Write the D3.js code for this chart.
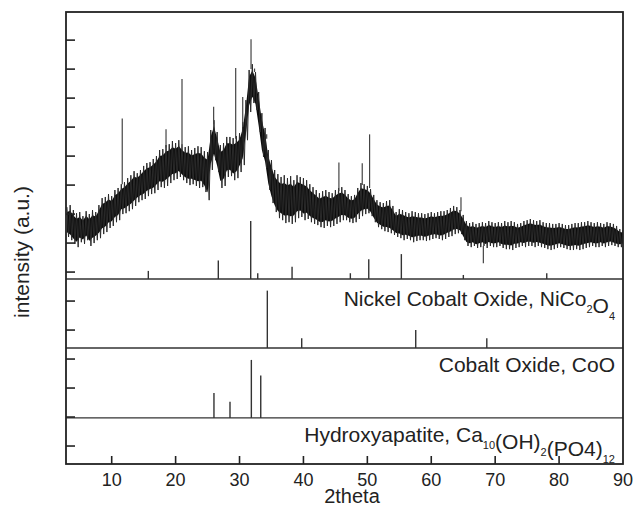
<!DOCTYPE html>
<html>
<head>
<meta charset="utf-8">
<script src="https://cdn.jsdelivr.net/npm/d3@7"></script>
<style>
  body { margin: 0; background: #fff; }
  text { font-family: Arial, "Liberation Sans", sans-serif; fill: #222; }
</style>
</head>
<body>
<div id="vis-container"></div>
<script>
var theta = [3.0, 3.5, 4.0, 4.5, 5.0, 5.5, 6.0, 6.5, 7.0, 7.5,
	8.0, 8.5, 9.0, 9.5, 10.0, 10.5, 11.0, 11.5, 12.0, 12.5,
	13.0, 13.5, 14.0, 14.5, 15.0, 15.5, 16.0, 16.5, 17.0, 17.5,
	18.0, 18.5, 19.0, 19.5, 20.0, 20.5, 21.0, 21.5, 22.0, 22.5,
	23.0, 23.5, 24.0, 24.5, 25.0, 25.5, 26.0, 26.5, 27.0, 27.5,
	28.0, 28.5, 29.0, 29.5, 30.0, 30.5, 31.0, 31.5, 32.0, 32.5,
	33.0, 33.5, 34.0, 34.5, 35.0, 35.5, 36.0, 36.5, 37.0, 37.5,
	38.0, 38.5, 39.0, 39.5, 40.0, 40.5, 41.0, 41.5, 42.0, 42.5,
	43.0, 43.5, 44.0, 44.5, 45.0, 45.5, 46.0, 46.5, 47.0, 47.5,
	48.0, 48.5, 49.0, 49.5, 50.0, 50.5, 51.0, 51.5, 52.0, 52.5,
	53.0, 53.5, 54.0, 54.5, 55.0, 55.5, 56.0, 56.5, 57.0, 57.5,
	58.0, 58.5, 59.0, 59.5, 60.0, 60.5, 61.0, 61.5, 62.0, 62.5,
	63.0, 63.5, 64.0, 64.5, 65.0, 65.5, 66.0, 66.5, 67.0, 67.5,
	68.0, 68.5, 69.0, 69.5, 70.0, 70.5, 71.0, 71.5, 72.0, 72.5,
	73.0, 73.5, 74.0, 74.5, 75.0, 75.5, 76.0, 76.5, 77.0, 77.5,
	78.0, 78.5, 79.0, 79.5, 80.0, 80.5, 81.0, 81.5, 82.0, 82.5,
	83.0, 83.5, 84.0, 84.5, 85.0, 85.5, 86.0, 86.5, 87.0, 87.5,
	88.0, 88.5, 89.0, 89.5, 90.0];
var upper = [8.24, 8.31, 8.14, 8.03, 8.07, 7.93, 8.10, 8.00, 8.14, 8.07,
	8.31, 8.55, 8.59, 8.69, 8.62, 8.83, 8.90, 9.03, 9.10, 9.24,
	9.34, 9.48, 9.41, 9.52, 9.66, 9.76, 9.79, 9.90, 10.00, 10.21,
	10.24, 10.38, 10.41, 10.52, 10.45, 10.55, 10.41, 10.31, 10.34, 10.21,
	10.28, 10.34, 10.31, 10.17, 10.14, 10.90, 11.24, 10.83, 10.38, 10.45,
	10.66, 10.66, 10.62, 10.69, 10.79, 11.17, 11.93, 12.97, 13.17, 12.90,
	12.21, 11.48, 10.97, 10.21, 9.86, 9.52, 9.38, 9.28, 9.34, 9.24,
	9.31, 9.17, 9.34, 9.28, 9.24, 9.17, 9.03, 8.93, 8.83, 8.72,
	8.79, 8.83, 8.76, 8.72, 8.83, 8.90, 8.93, 8.83, 8.69, 8.62,
	8.66, 8.90, 9.07, 9.03, 8.97, 8.86, 8.66, 8.48, 8.41, 8.38,
	8.45, 8.48, 8.28, 8.07, 8.17, 8.14, 8.07, 8.03, 8.10, 8.07,
	8.03, 8.03, 8.00, 8.03, 8.07, 8.03, 8.07, 8.10, 8.10, 8.14,
	8.21, 8.28, 8.24, 8.14, 7.97, 7.76, 7.69, 7.72, 7.66, 7.69,
	7.72, 7.69, 7.76, 7.72, 7.69, 7.72, 7.69, 7.76, 7.72, 7.76,
	7.72, 7.66, 7.69, 7.76, 7.79, 7.83, 7.79, 7.76, 7.79, 7.72,
	7.69, 7.69, 7.66, 7.66, 7.69, 7.66, 7.62, 7.62, 7.66, 7.69,
	7.69, 7.72, 7.72, 7.76, 7.72, 7.69, 7.72, 7.69, 7.66, 7.72,
	7.69, 7.66, 7.59, 7.48, 7.45];
var lower = [7.21, 7.10, 6.97, 6.86, 7.03, 6.97, 7.10, 6.90, 7.00, 7.10,
	7.17, 7.31, 7.38, 7.52, 7.59, 7.72, 7.79, 8.00, 8.03, 8.10,
	8.17, 8.28, 8.41, 8.48, 8.52, 8.62, 8.69, 8.72, 8.83, 8.93,
	8.90, 8.97, 9.07, 9.17, 9.21, 9.28, 9.17, 9.07, 9.00, 9.03,
	8.97, 8.90, 8.93, 8.76, 8.48, 9.52, 9.86, 9.45, 8.90, 8.97,
	9.28, 9.31, 9.17, 9.24, 9.45, 9.69, 10.55, 11.52, 11.83, 11.59,
	10.83, 9.97, 9.59, 8.83, 8.38, 8.07, 7.86, 7.79, 7.69, 7.72,
	7.66, 7.72, 7.86, 7.90, 7.79, 7.83, 7.72, 7.66, 7.62, 7.55,
	7.52, 7.59, 7.55, 7.59, 7.66, 7.72, 7.79, 7.79, 7.72, 7.69,
	7.72, 7.83, 7.93, 8.00, 8.03, 7.93, 7.72, 7.55, 7.48, 7.41,
	7.38, 7.34, 7.28, 7.21, 7.17, 7.10, 7.14, 7.10, 7.03, 7.07,
	7.10, 7.10, 7.07, 7.10, 7.14, 7.17, 7.14, 7.10, 7.14, 7.21,
	7.24, 7.31, 7.34, 7.31, 7.10, 6.90, 6.86, 6.90, 6.83, 6.86,
	6.90, 6.83, 6.90, 6.86, 6.86, 6.90, 6.83, 6.79, 6.79, 6.76,
	6.83, 6.86, 6.90, 6.86, 6.90, 6.90, 6.86, 6.90, 6.86, 6.83,
	6.79, 6.76, 6.79, 6.83, 6.86, 6.83, 6.79, 6.76, 6.76, 6.79,
	6.76, 6.79, 6.83, 6.86, 6.90, 6.86, 6.86, 6.90, 6.86, 6.90,
	6.93, 6.90, 6.86, 6.86, 6.90];

// single sharp spikes sticking out of the band
var spikeTheta = [11.65, 18.5, 21.0, 25.95, 29.4, 30.5, 31.8, 32.35, 34.25, 45.55, 49.2, 50.35, 64.65, 68.15];
var spikeFrom = [9.03, 10.3, 10.4, 11.1, 10.6, 11.0, 13.0, 12.9, 10.6, 8.8, 9.0, 8.9, 8.1, 6.9];
var spikeTo = [11.30, 10.93, 12.66, 11.70, 13.04, 12.04, 14.03, 13.02, 10.75, 9.78, 9.75, 10.75, 8.58, 6.30];

// reference patterns (relative intensity, %)
var refTopTheta = [15.73, 26.68, 31.75, 32.85, 38.22, 47.34, 50.22, 55.32, 65.02, 78.07];
var refTopInt = [14, 32, 100, 10, 21, 10, 34, 43, 7, 10];
var nicoTheta = [34.35, 39.73, 57.57, 68.69];
var nicoInt = [99, 17, 31, 17];
var cooTheta = [26.0, 28.51, 31.85, 33.32];
var cooInt = [43, 28, 100, 73];

var xTicks = [10, 20, 30, 40, 50, 60, 70, 80, 90];
var yTicks = d3.range(0, 15);

// layout
var width = 633, height = 507;
var margin = { top: 12, right: 10, bottom: 43, left: 66 };
var plotw = width - margin.left - margin.right;
var ploth = height - margin.top - margin.bottom;

var svg = d3.select("#vis-container")
	.append("svg")
	.attr("width", width)
	.attr("height", height)
	.style("background", "#fff");

var g = svg.append("g")
	.attr("transform", "translate(" + margin.left + "," + margin.top + ")");

var xScale = d3.scaleLinear().domain([2.85, 90]).range([0, plotw]);
var yScale = d3.scaleLinear().domain([-0.62, 14.97]).range([ploth, 0]);

// baselines of the stacked panels (a.u.)
var baseTop = 5.76, baseNico = 3.38, baseCoo = 0.97, baseHap = -0.62;
var stickScale = 2.0 / 100;
var core = 0.16; // share of the band left as grey fringe on each side

g.append("clipPath").attr("id", "clip")
	.append("rect").attr("width", plotw).attr("height", ploth);

// dense black core of the noise band
var band = d3.area()
	.x(function (d, i) { return xScale(theta[i]); })
	.y0(function (d, i) { return yScale(lower[i] + core * (upper[i] - lower[i])); })
	.y1(function (d, i) { return yScale(upper[i] - core * (upper[i] - lower[i])); });

g.append("path")
	.datum(theta)
	.attr("clip-path", "url(#clip)")
	.attr("fill", "#0d0d0d")
	.attr("d", band);

// the noisy trace itself: top of each bin, then bottom a quarter step later
var pts = [];
theta.forEach(function (t, i) {
	pts.push([t, upper[i]]);
	pts.push([t + 0.25, lower[i]]);
});
var line = d3.line()
	.x(function (d) { return xScale(d[0]); })
	.y(function (d) { return yScale(d[1]); });

g.append("path")
	.datum(pts)
	.attr("clip-path", "url(#clip)")
	.attr("fill", "none")
	.attr("stroke", "#2a2a2a")
	.attr("stroke-width", 1.0)
	.attr("d", line);

g.selectAll(".spike")
	.data(spikeTheta)
	.enter().append("line")
	.attr("class", "spike")
	.attr("x1", function (d) { return xScale(d); })
	.attr("x2", function (d) { return xScale(d); })
	.attr("y1", function (d, i) { return yScale(spikeFrom[i]); })
	.attr("y2", function (d, i) { return yScale(spikeTo[i]); })
	.attr("stroke", "#444")
	.attr("stroke-width", 1.2);

// reference sticks
function sticks(ts, ints, base) {
	g.append("g").selectAll("line")
		.data(ts)
		.enter().append("line")
		.attr("x1", function (d) { return xScale(d); })
		.attr("x2", function (d) { return xScale(d); })
		.attr("y1", yScale(base))
		.attr("y2", function (d, i) { return yScale(base + ints[i] * stickScale); })
		.attr("stroke", "#333")
		.attr("stroke-width", 1.4);
}
sticks(refTopTheta, refTopInt, baseTop);
sticks(nicoTheta, nicoInt, baseNico);
sticks(cooTheta, cooInt, baseCoo);

// panel separators
[baseTop, baseNico, baseCoo].forEach(function (b) {
	g.append("line")
		.attr("x1", 0).attr("x2", plotw)
		.attr("y1", yScale(b)).attr("y2", yScale(b))
		.attr("stroke", "#333")
		.attr("stroke-width", 1.4);
});

// ticks (inward)
g.append("g").selectAll("line")
	.data(yTicks)
	.enter().append("line")
	.attr("x1", 0).attr("x2", 9)
	.attr("y1", function (d) { return yScale(d); })
	.attr("y2", function (d) { return yScale(d); })
	.attr("stroke", "#222")
	.attr("stroke-width", 1.6);

g.append("g").selectAll("line")
	.data(xTicks.slice(0, -1))
	.enter().append("line")
	.attr("x1", function (d) { return xScale(d); })
	.attr("x2", function (d) { return xScale(d); })
	.attr("y1", ploth).attr("y2", ploth - 8)
	.attr("stroke", "#222")
	.attr("stroke-width", 1.6);

g.append("g").selectAll("text")
	.data(xTicks)
	.enter().append("text")
	.attr("x", function (d) { return xScale(d); })
	.attr("y", ploth + 22)
	.style("text-anchor", "middle")
	.style("font-size", "18px")
	.text(function (d) { return d; });

// frame
g.append("rect")
	.attr("width", plotw).attr("height", ploth)
	.attr("fill", "none")
	.attr("stroke", "#222")
	.attr("stroke-width", 1.8);

// phase labels with subscripts
function label(y, parts) {
	var t = g.append("text")
		.attr("x", plotw - 8)
		.attr("y", y)
		.style("text-anchor", "end")
		.style("font-size", "21px");
	parts.forEach(function (p) {
		if (p[1]) {
			t.append("tspan").attr("dy", 7).style("font-size", "11px").text(p[0]);
			t.append("tspan").attr("dy", -7).text("");
		} else {
			t.append("tspan").text(p[0]);
		}
	});
}
label(yScale(baseNico) - 42, [["Nickel Cobalt Oxide, NiCo"], ["2", 1], ["O"], ["4", 1]]);
label(yScale(baseCoo) - 46, [["Cobalt Oxide, CoO"]]);
label(yScale(baseHap) - 22, [["Hydroxyapatite, Ca"], ["10", 1], ["(OH)"], ["2", 1], ["(PO4)"], ["12", 1]]);

// axis titles
svg.append("text")
	.attr("x", 352)
	.attr("y", 503)
	.style("text-anchor", "middle")
	.style("font-size", "20px")
	.text("2theta");

svg.append("text")
	.attr("transform", "translate(29,252) rotate(-90)")
	.style("text-anchor", "middle")
	.style("font-size", "21px")
	.text("intensity (a.u.)");
</script>
</body>
</html>
